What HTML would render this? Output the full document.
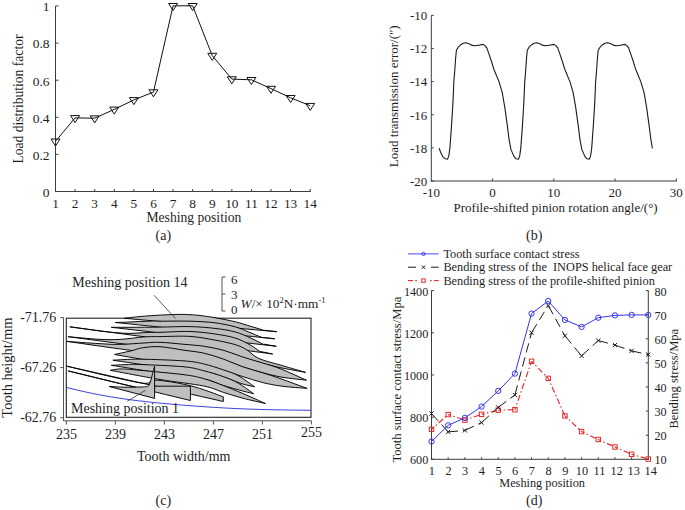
<!DOCTYPE html>
<html><head><meta charset="utf-8"><style>
html,body{margin:0;padding:0;background:#fff;overflow:hidden;}
svg{display:block;font-family:"Liberation Serif", serif;}
</style></head><body>
<svg width="685" height="510" viewBox="0 0 685 510">
<rect width="685" height="510" fill="#fff"/>
<line x1="55.5" y1="6" x2="55.5" y2="192.0" stroke="#3c3c3c" stroke-width="1"/>
<line x1="55.0" y1="191.5" x2="310.7" y2="191.5" stroke="#3c3c3c" stroke-width="1"/>
<line x1="55.5" y1="191.5" x2="58.5" y2="191.5" stroke="#3c3c3c" stroke-width="1"/>
<text x="49.5" y="196.8" font-size="13.5" text-anchor="end" fill="#1e1e1e">0</text>
<line x1="55.5" y1="154.4" x2="58.5" y2="154.4" stroke="#3c3c3c" stroke-width="1"/>
<text x="49.5" y="159.70000000000002" font-size="13.5" text-anchor="end" fill="#1e1e1e">0.2</text>
<line x1="55.5" y1="117.3" x2="58.5" y2="117.3" stroke="#3c3c3c" stroke-width="1"/>
<text x="49.5" y="122.6" font-size="13.5" text-anchor="end" fill="#1e1e1e">0.4</text>
<line x1="55.5" y1="80.19999999999999" x2="58.5" y2="80.19999999999999" stroke="#3c3c3c" stroke-width="1"/>
<text x="49.5" y="85.49999999999999" font-size="13.5" text-anchor="end" fill="#1e1e1e">0.6</text>
<line x1="55.5" y1="43.099999999999994" x2="58.5" y2="43.099999999999994" stroke="#3c3c3c" stroke-width="1"/>
<text x="49.5" y="48.39999999999999" font-size="13.5" text-anchor="end" fill="#1e1e1e">0.8</text>
<line x1="55.5" y1="6.0" x2="58.5" y2="6.0" stroke="#3c3c3c" stroke-width="1"/>
<text x="49.5" y="11.3" font-size="13.5" text-anchor="end" fill="#1e1e1e">1</text>
<text x="55.5" y="208.0" font-size="13.3" text-anchor="middle" fill="#1e1e1e">1</text>
<line x1="75.09230769230768" y1="191.5" x2="75.09230769230768" y2="189.0" stroke="#3c3c3c" stroke-width="1"/>
<text x="75.09230769230768" y="208.0" font-size="13.3" text-anchor="middle" fill="#1e1e1e">2</text>
<line x1="94.68461538461538" y1="191.5" x2="94.68461538461538" y2="189.0" stroke="#3c3c3c" stroke-width="1"/>
<text x="94.68461538461538" y="208.0" font-size="13.3" text-anchor="middle" fill="#1e1e1e">3</text>
<line x1="114.27692307692308" y1="191.5" x2="114.27692307692308" y2="189.0" stroke="#3c3c3c" stroke-width="1"/>
<text x="114.27692307692308" y="208.0" font-size="13.3" text-anchor="middle" fill="#1e1e1e">4</text>
<line x1="133.86923076923077" y1="191.5" x2="133.86923076923077" y2="189.0" stroke="#3c3c3c" stroke-width="1"/>
<text x="133.86923076923077" y="208.0" font-size="13.3" text-anchor="middle" fill="#1e1e1e">5</text>
<line x1="153.46153846153845" y1="191.5" x2="153.46153846153845" y2="189.0" stroke="#3c3c3c" stroke-width="1"/>
<text x="153.46153846153845" y="208.0" font-size="13.3" text-anchor="middle" fill="#1e1e1e">6</text>
<line x1="173.05384615384617" y1="191.5" x2="173.05384615384617" y2="189.0" stroke="#3c3c3c" stroke-width="1"/>
<text x="173.05384615384617" y="208.0" font-size="13.3" text-anchor="middle" fill="#1e1e1e">7</text>
<line x1="192.64615384615385" y1="191.5" x2="192.64615384615385" y2="189.0" stroke="#3c3c3c" stroke-width="1"/>
<text x="192.64615384615385" y="208.0" font-size="13.3" text-anchor="middle" fill="#1e1e1e">8</text>
<line x1="212.23846153846154" y1="191.5" x2="212.23846153846154" y2="189.0" stroke="#3c3c3c" stroke-width="1"/>
<text x="212.23846153846154" y="208.0" font-size="13.3" text-anchor="middle" fill="#1e1e1e">9</text>
<line x1="231.83076923076922" y1="191.5" x2="231.83076923076922" y2="189.0" stroke="#3c3c3c" stroke-width="1"/>
<text x="231.83076923076922" y="208.0" font-size="13.3" text-anchor="middle" fill="#1e1e1e">10</text>
<line x1="251.4230769230769" y1="191.5" x2="251.4230769230769" y2="189.0" stroke="#3c3c3c" stroke-width="1"/>
<text x="251.4230769230769" y="208.0" font-size="13.3" text-anchor="middle" fill="#1e1e1e">11</text>
<line x1="271.0153846153846" y1="191.5" x2="271.0153846153846" y2="189.0" stroke="#3c3c3c" stroke-width="1"/>
<text x="271.0153846153846" y="208.0" font-size="13.3" text-anchor="middle" fill="#1e1e1e">12</text>
<line x1="290.60769230769233" y1="191.5" x2="290.60769230769233" y2="189.0" stroke="#3c3c3c" stroke-width="1"/>
<text x="290.60769230769233" y="208.0" font-size="13.3" text-anchor="middle" fill="#1e1e1e">13</text>
<line x1="310.2" y1="191.5" x2="310.2" y2="189.0" stroke="#3c3c3c" stroke-width="1"/>
<text x="310.2" y="208.0" font-size="13.3" text-anchor="middle" fill="#1e1e1e">14</text>
<text x="193.9" y="221.6" font-size="13.6" text-anchor="middle" fill="#1e1e1e">Meshing position</text>
<text x="23.3" y="99.05" font-size="13.6" text-anchor="middle" fill="#1e1e1e" transform="rotate(-90 23.3 99.05)">Load distribution factor</text>
<text x="163.3" y="239.5" font-size="14" text-anchor="middle" fill="#1e1e1e">(a)</text>
<polyline points="55.50,141.30 75.09,117.90 94.68,118.20 114.28,109.40 133.87,99.90 153.46,92.10 173.05,5.80 192.65,5.80 212.24,55.60 231.83,79.10 251.42,79.80 271.02,88.60 290.61,97.80 310.20,105.70" fill="none" stroke="#111" stroke-width="1"/>
<polygon points="51.00,139.00 60.00,139.00 55.50,146.00" fill="none" stroke="#111" stroke-width="1"/>
<polygon points="70.59,115.60 79.59,115.60 75.09,122.60" fill="none" stroke="#111" stroke-width="1"/>
<polygon points="90.18,115.90 99.18,115.90 94.68,122.90" fill="none" stroke="#111" stroke-width="1"/>
<polygon points="109.78,107.10 118.78,107.10 114.28,114.10" fill="none" stroke="#111" stroke-width="1"/>
<polygon points="129.37,97.60 138.37,97.60 133.87,104.60" fill="none" stroke="#111" stroke-width="1"/>
<polygon points="148.96,89.80 157.96,89.80 153.46,96.80" fill="none" stroke="#111" stroke-width="1"/>
<polygon points="168.55,3.50 177.55,3.50 173.05,10.50" fill="none" stroke="#111" stroke-width="1"/>
<polygon points="188.15,3.50 197.15,3.50 192.65,10.50" fill="none" stroke="#111" stroke-width="1"/>
<polygon points="207.74,53.30 216.74,53.30 212.24,60.30" fill="none" stroke="#111" stroke-width="1"/>
<polygon points="227.33,76.80 236.33,76.80 231.83,83.80" fill="none" stroke="#111" stroke-width="1"/>
<polygon points="246.92,77.50 255.92,77.50 251.42,84.50" fill="none" stroke="#111" stroke-width="1"/>
<polygon points="266.52,86.30 275.52,86.30 271.02,93.30" fill="none" stroke="#111" stroke-width="1"/>
<polygon points="286.11,95.50 295.11,95.50 290.61,102.50" fill="none" stroke="#111" stroke-width="1"/>
<polygon points="305.70,103.40 314.70,103.40 310.20,110.40" fill="none" stroke="#111" stroke-width="1"/>
<line x1="431.3" y1="15.3" x2="431.3" y2="181.5" stroke="#3c3c3c" stroke-width="1"/>
<line x1="430.8" y1="181.0" x2="676.8" y2="181.0" stroke="#3c3c3c" stroke-width="1"/>
<line x1="431.3" y1="181.0" x2="433.8" y2="181.0" stroke="#3c3c3c" stroke-width="1"/>
<text x="427.3" y="185.9" font-size="13" text-anchor="end" fill="#1e1e1e">-20</text>
<line x1="431.3" y1="147.86" x2="433.8" y2="147.86" stroke="#3c3c3c" stroke-width="1"/>
<text x="427.3" y="152.76000000000002" font-size="13" text-anchor="end" fill="#1e1e1e">-18</text>
<line x1="431.3" y1="114.72" x2="433.8" y2="114.72" stroke="#3c3c3c" stroke-width="1"/>
<text x="427.3" y="119.62" font-size="13" text-anchor="end" fill="#1e1e1e">-16</text>
<line x1="431.3" y1="81.58" x2="433.8" y2="81.58" stroke="#3c3c3c" stroke-width="1"/>
<text x="427.3" y="86.48" font-size="13" text-anchor="end" fill="#1e1e1e">-14</text>
<line x1="431.3" y1="48.44" x2="433.8" y2="48.44" stroke="#3c3c3c" stroke-width="1"/>
<text x="427.3" y="53.339999999999996" font-size="13" text-anchor="end" fill="#1e1e1e">-12</text>
<line x1="431.3" y1="15.300000000000011" x2="433.8" y2="15.300000000000011" stroke="#3c3c3c" stroke-width="1"/>
<text x="427.3" y="20.20000000000001" font-size="13" text-anchor="end" fill="#1e1e1e">-10</text>
<text x="431.3" y="197.3" font-size="13" text-anchor="middle" fill="#1e1e1e">-10</text>
<line x1="492.55" y1="181.0" x2="492.55" y2="178.5" stroke="#3c3c3c" stroke-width="1"/>
<text x="492.55" y="197.3" font-size="13" text-anchor="middle" fill="#1e1e1e">0</text>
<line x1="553.8" y1="181.0" x2="553.8" y2="178.5" stroke="#3c3c3c" stroke-width="1"/>
<text x="553.8" y="197.3" font-size="13" text-anchor="middle" fill="#1e1e1e">10</text>
<line x1="615.05" y1="181.0" x2="615.05" y2="178.5" stroke="#3c3c3c" stroke-width="1"/>
<text x="615.05" y="197.3" font-size="13" text-anchor="middle" fill="#1e1e1e">20</text>
<line x1="676.3" y1="181.0" x2="676.3" y2="178.5" stroke="#3c3c3c" stroke-width="1"/>
<text x="676.3" y="197.3" font-size="13" text-anchor="middle" fill="#1e1e1e">30</text>
<text x="555.6" y="212.2" font-size="13" text-anchor="middle" fill="#1e1e1e">Profile-shifted pinion rotation angle/(°)</text>
<text x="397.6" y="96.25" font-size="13" text-anchor="middle" fill="#1e1e1e" transform="rotate(-90 397.6 96.25)">Load transmission error/(")</text>
<text x="534.2" y="239.6" font-size="14" text-anchor="middle" fill="#1e1e1e">(b)</text>
<polyline points="439.20,148.10 440.50,152.00 442.80,156.70 445.20,158.80 447.60,159.10 448.80,155.90 449.90,148.10 450.70,137.10 451.50,126.10 452.30,113.50 453.10,99.40 453.80,82.10 454.80,70.30 455.60,58.50 456.40,50.30 457.90,47.70 460.30,45.00 463.20,43.20 465.80,42.80 469.10,43.80 472.10,45.40 475.00,45.80 478.50,45.20 483.20,44.40 485.00,45.60 486.80,47.90 489.10,54.40 491.50,61.50 493.80,69.10 495.00,72.00 499.00,81.60 502.20,92.30 504.80,107.40 507.20,124.70 509.10,139.70 510.90,149.40 514.10,156.60 516.10,158.80 518.50,159.10 519.70,155.90 520.80,148.10 521.60,137.10 522.40,126.10 523.20,113.50 524.00,99.40 524.70,82.10 525.70,70.30 526.50,58.50 527.30,50.30 528.80,47.70 531.20,45.00 534.10,43.20 536.70,42.80 540.00,43.80 543.00,45.40 545.90,45.80 549.40,45.20 554.10,44.40 555.90,45.60 557.70,47.90 560.00,54.40 562.40,61.50 564.70,69.10 565.90,72.00 569.90,81.60 573.10,92.30 575.70,107.40 578.10,124.70 580.00,139.70 581.80,149.40 585.00,156.60 587.00,158.80 589.40,159.10 590.60,155.90 591.70,148.10 592.50,137.10 593.30,126.10 594.10,113.50 594.90,99.40 595.60,82.10 596.60,70.30 597.40,58.50 598.20,50.30 599.70,47.70 602.10,45.00 605.00,43.20 607.60,42.80 610.90,43.80 613.90,45.40 616.80,45.80 620.30,45.20 625.00,44.40 626.80,45.60 628.60,47.90 630.90,54.40 633.30,61.50 635.60,69.10 636.80,72.00 640.80,81.60 644.00,92.30 646.60,107.40 649.00,124.70 650.90,139.70 652.40,148.50" fill="none" stroke="#1a1a1a" stroke-width="1.1" stroke-linejoin="round"/>
<line x1="431.5" y1="290.4" x2="431.5" y2="459.8" stroke="#3c3c3c" stroke-width="1"/>
<line x1="648.3" y1="290.4" x2="648.3" y2="459.8" stroke="#3c3c3c" stroke-width="1"/>
<line x1="431.0" y1="459.3" x2="648.8" y2="459.3" stroke="#3c3c3c" stroke-width="1"/>
<line x1="431.5" y1="459.3" x2="434.0" y2="459.3" stroke="#3c3c3c" stroke-width="1"/>
<text x="428.3" y="464.40000000000003" font-size="12.2" text-anchor="end" fill="#1e1e1e">600</text>
<line x1="431.5" y1="417.125" x2="434.0" y2="417.125" stroke="#3c3c3c" stroke-width="1"/>
<text x="428.3" y="422.225" font-size="12.2" text-anchor="end" fill="#1e1e1e">800</text>
<line x1="431.5" y1="374.95000000000005" x2="434.0" y2="374.95000000000005" stroke="#3c3c3c" stroke-width="1"/>
<text x="428.3" y="380.05000000000007" font-size="12.2" text-anchor="end" fill="#1e1e1e">1000</text>
<line x1="431.5" y1="332.77500000000003" x2="434.0" y2="332.77500000000003" stroke="#3c3c3c" stroke-width="1"/>
<text x="428.3" y="337.87500000000006" font-size="12.2" text-anchor="end" fill="#1e1e1e">1200</text>
<line x1="431.5" y1="290.6" x2="434.0" y2="290.6" stroke="#3c3c3c" stroke-width="1"/>
<text x="428.3" y="295.70000000000005" font-size="12.2" text-anchor="end" fill="#1e1e1e">1400</text>
<line x1="648.3" y1="459.3" x2="645.8" y2="459.3" stroke="#3c3c3c" stroke-width="1"/>
<text x="654.5" y="464.40000000000003" font-size="12.2" text-anchor="start" fill="#1e1e1e">10</text>
<line x1="648.3" y1="435.2" x2="645.8" y2="435.2" stroke="#3c3c3c" stroke-width="1"/>
<text x="654.5" y="440.3" font-size="12.2" text-anchor="start" fill="#1e1e1e">20</text>
<line x1="648.3" y1="411.1" x2="645.8" y2="411.1" stroke="#3c3c3c" stroke-width="1"/>
<text x="654.5" y="416.20000000000005" font-size="12.2" text-anchor="start" fill="#1e1e1e">30</text>
<line x1="648.3" y1="387.0" x2="645.8" y2="387.0" stroke="#3c3c3c" stroke-width="1"/>
<text x="654.5" y="392.1" font-size="12.2" text-anchor="start" fill="#1e1e1e">40</text>
<line x1="648.3" y1="362.90000000000003" x2="645.8" y2="362.90000000000003" stroke="#3c3c3c" stroke-width="1"/>
<text x="654.5" y="368.00000000000006" font-size="12.2" text-anchor="start" fill="#1e1e1e">50</text>
<line x1="648.3" y1="338.8" x2="645.8" y2="338.8" stroke="#3c3c3c" stroke-width="1"/>
<text x="654.5" y="343.90000000000003" font-size="12.2" text-anchor="start" fill="#1e1e1e">60</text>
<line x1="648.3" y1="314.70000000000005" x2="645.8" y2="314.70000000000005" stroke="#3c3c3c" stroke-width="1"/>
<text x="654.5" y="319.80000000000007" font-size="12.2" text-anchor="start" fill="#1e1e1e">70</text>
<line x1="648.3" y1="290.6" x2="645.8" y2="290.6" stroke="#3c3c3c" stroke-width="1"/>
<text x="654.5" y="295.70000000000005" font-size="12.2" text-anchor="start" fill="#1e1e1e">80</text>
<text x="431.8" y="474.7" font-size="12.3" text-anchor="middle" fill="#1e1e1e">1</text>
<line x1="448.17692307692306" y1="459.3" x2="448.17692307692306" y2="457.3" stroke="#3c3c3c" stroke-width="1"/>
<text x="448.4769230769231" y="474.7" font-size="12.3" text-anchor="middle" fill="#1e1e1e">2</text>
<line x1="464.8538461538461" y1="459.3" x2="464.8538461538461" y2="457.3" stroke="#3c3c3c" stroke-width="1"/>
<text x="465.15384615384613" y="474.7" font-size="12.3" text-anchor="middle" fill="#1e1e1e">3</text>
<line x1="481.53076923076924" y1="459.3" x2="481.53076923076924" y2="457.3" stroke="#3c3c3c" stroke-width="1"/>
<text x="481.83076923076925" y="474.7" font-size="12.3" text-anchor="middle" fill="#1e1e1e">4</text>
<line x1="498.2076923076923" y1="459.3" x2="498.2076923076923" y2="457.3" stroke="#3c3c3c" stroke-width="1"/>
<text x="498.5076923076923" y="474.7" font-size="12.3" text-anchor="middle" fill="#1e1e1e">5</text>
<line x1="514.8846153846154" y1="459.3" x2="514.8846153846154" y2="457.3" stroke="#3c3c3c" stroke-width="1"/>
<text x="515.1846153846153" y="474.7" font-size="12.3" text-anchor="middle" fill="#1e1e1e">6</text>
<line x1="531.5615384615385" y1="459.3" x2="531.5615384615385" y2="457.3" stroke="#3c3c3c" stroke-width="1"/>
<text x="531.8615384615384" y="474.7" font-size="12.3" text-anchor="middle" fill="#1e1e1e">7</text>
<line x1="548.2384615384615" y1="459.3" x2="548.2384615384615" y2="457.3" stroke="#3c3c3c" stroke-width="1"/>
<text x="548.5384615384614" y="474.7" font-size="12.3" text-anchor="middle" fill="#1e1e1e">8</text>
<line x1="564.9153846153846" y1="459.3" x2="564.9153846153846" y2="457.3" stroke="#3c3c3c" stroke-width="1"/>
<text x="565.2153846153846" y="474.7" font-size="12.3" text-anchor="middle" fill="#1e1e1e">9</text>
<line x1="581.5923076923077" y1="459.3" x2="581.5923076923077" y2="457.3" stroke="#3c3c3c" stroke-width="1"/>
<text x="581.8923076923077" y="474.7" font-size="12.3" text-anchor="middle" fill="#1e1e1e">10</text>
<line x1="598.2692307692307" y1="459.3" x2="598.2692307692307" y2="457.3" stroke="#3c3c3c" stroke-width="1"/>
<text x="599.4692307692308" y="474.7" font-size="12.3" text-anchor="middle" fill="#1e1e1e">11</text>
<line x1="614.9461538461538" y1="459.3" x2="614.9461538461538" y2="457.3" stroke="#3c3c3c" stroke-width="1"/>
<text x="616.7461538461538" y="474.7" font-size="12.3" text-anchor="middle" fill="#1e1e1e">12</text>
<line x1="631.623076923077" y1="459.3" x2="631.623076923077" y2="457.3" stroke="#3c3c3c" stroke-width="1"/>
<text x="633.723076923077" y="474.7" font-size="12.3" text-anchor="middle" fill="#1e1e1e">13</text>
<text x="650.6999999999999" y="474.7" font-size="12.3" text-anchor="middle" fill="#1e1e1e">14</text>
<text x="542.1" y="487.3" font-size="12.3" text-anchor="middle" fill="#1e1e1e">Meshing position</text>
<text x="401.3" y="379.65" font-size="12.6" text-anchor="middle" fill="#1e1e1e" transform="rotate(-90 401.3 379.65)">Tooth surface contact stress/Mpa</text>
<text x="678.2" y="378.7" font-size="12.5" text-anchor="middle" fill="#1e1e1e" transform="rotate(-90 678.2 378.7)">Bending stress/Mpa</text>
<text x="534.2" y="505.0" font-size="14" text-anchor="middle" fill="#1e1e1e">(d)</text>
<line x1="431.50" y1="429.30" x2="448.18" y2="414.60" stroke="#e42a2a" stroke-width="1.15" stroke-dasharray="6,2.5,1.5,2.5" stroke-dashoffset="3"/>
<line x1="448.18" y1="414.60" x2="464.85" y2="420.10" stroke="#e42a2a" stroke-width="1.15" stroke-dasharray="6,2.5,1.5,2.5" stroke-dashoffset="3"/>
<line x1="464.85" y1="420.10" x2="481.53" y2="414.30" stroke="#e42a2a" stroke-width="1.15" stroke-dasharray="6,2.5,1.5,2.5" stroke-dashoffset="3"/>
<line x1="481.53" y1="414.30" x2="498.21" y2="410.20" stroke="#e42a2a" stroke-width="1.15" stroke-dasharray="6,2.5,1.5,2.5" stroke-dashoffset="3"/>
<line x1="498.21" y1="410.20" x2="514.88" y2="409.70" stroke="#e42a2a" stroke-width="1.15" stroke-dasharray="6,2.5,1.5,2.5" stroke-dashoffset="3"/>
<line x1="514.88" y1="409.70" x2="531.56" y2="361.30" stroke="#e42a2a" stroke-width="1.15" stroke-dasharray="6,2.5,1.5,2.5" stroke-dashoffset="3"/>
<line x1="531.56" y1="361.30" x2="548.24" y2="378.40" stroke="#e42a2a" stroke-width="1.15" stroke-dasharray="6,2.5,1.5,2.5" stroke-dashoffset="3"/>
<line x1="548.24" y1="378.40" x2="564.92" y2="415.90" stroke="#e42a2a" stroke-width="1.15" stroke-dasharray="6,2.5,1.5,2.5" stroke-dashoffset="3"/>
<line x1="564.92" y1="415.90" x2="581.59" y2="431.60" stroke="#e42a2a" stroke-width="1.15" stroke-dasharray="6,2.5,1.5,2.5" stroke-dashoffset="3"/>
<line x1="581.59" y1="431.60" x2="598.27" y2="439.50" stroke="#e42a2a" stroke-width="1.15" stroke-dasharray="6,2.5,1.5,2.5" stroke-dashoffset="3"/>
<line x1="598.27" y1="439.50" x2="614.95" y2="447.00" stroke="#e42a2a" stroke-width="1.15" stroke-dasharray="6,2.5,1.5,2.5" stroke-dashoffset="3"/>
<line x1="614.95" y1="447.00" x2="631.62" y2="454.30" stroke="#e42a2a" stroke-width="1.15" stroke-dasharray="6,2.5,1.5,2.5" stroke-dashoffset="3"/>
<line x1="631.62" y1="454.30" x2="648.30" y2="459.10" stroke="#e42a2a" stroke-width="1.15" stroke-dasharray="6,2.5,1.5,2.5" stroke-dashoffset="3"/>
<line x1="431.50" y1="413.50" x2="448.18" y2="431.90" stroke="#1a1a1a" stroke-width="1" stroke-dasharray="9.5,5" stroke-dashoffset="14"/>
<line x1="448.18" y1="431.90" x2="464.85" y2="430.40" stroke="#1a1a1a" stroke-width="1" stroke-dasharray="9.5,5" stroke-dashoffset="14"/>
<line x1="464.85" y1="430.40" x2="481.53" y2="422.60" stroke="#1a1a1a" stroke-width="1" stroke-dasharray="9.5,5" stroke-dashoffset="14"/>
<line x1="481.53" y1="422.60" x2="498.21" y2="407.40" stroke="#1a1a1a" stroke-width="1" stroke-dasharray="9.5,5" stroke-dashoffset="14"/>
<line x1="498.21" y1="407.40" x2="514.88" y2="395.00" stroke="#1a1a1a" stroke-width="1" stroke-dasharray="9.5,5" stroke-dashoffset="14"/>
<line x1="514.88" y1="395.00" x2="531.56" y2="332.70" stroke="#1a1a1a" stroke-width="1" stroke-dasharray="9.5,5" stroke-dashoffset="14"/>
<line x1="531.56" y1="332.70" x2="548.24" y2="305.50" stroke="#1a1a1a" stroke-width="1" stroke-dasharray="9.5,5" stroke-dashoffset="14"/>
<line x1="548.24" y1="305.50" x2="564.92" y2="335.80" stroke="#1a1a1a" stroke-width="1" stroke-dasharray="9.5,5" stroke-dashoffset="14"/>
<line x1="564.92" y1="335.80" x2="581.59" y2="355.90" stroke="#1a1a1a" stroke-width="1" stroke-dasharray="9.5,5" stroke-dashoffset="14"/>
<line x1="581.59" y1="355.90" x2="598.27" y2="340.50" stroke="#1a1a1a" stroke-width="1" stroke-dasharray="9.5,5" stroke-dashoffset="14"/>
<line x1="598.27" y1="340.50" x2="614.95" y2="345.10" stroke="#1a1a1a" stroke-width="1" stroke-dasharray="9.5,5" stroke-dashoffset="14"/>
<line x1="614.95" y1="345.10" x2="631.62" y2="350.90" stroke="#1a1a1a" stroke-width="1" stroke-dasharray="9.5,5" stroke-dashoffset="14"/>
<line x1="631.62" y1="350.90" x2="648.30" y2="354.60" stroke="#1a1a1a" stroke-width="1" stroke-dasharray="9.5,5" stroke-dashoffset="14"/>
<polyline points="431.50,441.50 448.18,425.30 464.85,417.90 481.53,406.60 498.21,390.90 514.88,373.60 531.56,313.60 548.24,301.00 564.92,319.90 581.59,326.90 598.27,317.70 614.95,315.40 631.62,314.90 648.30,314.90" fill="none" stroke="#3535ec" stroke-width="1.0"/>
<rect x="429.30" y="427.10" width="4.4" height="4.4" fill="none" stroke="#e42a2a" stroke-width="1"/>
<rect x="445.98" y="412.40" width="4.4" height="4.4" fill="none" stroke="#e42a2a" stroke-width="1"/>
<rect x="462.65" y="417.90" width="4.4" height="4.4" fill="none" stroke="#e42a2a" stroke-width="1"/>
<rect x="479.33" y="412.10" width="4.4" height="4.4" fill="none" stroke="#e42a2a" stroke-width="1"/>
<rect x="496.01" y="408.00" width="4.4" height="4.4" fill="none" stroke="#e42a2a" stroke-width="1"/>
<rect x="512.68" y="407.50" width="4.4" height="4.4" fill="none" stroke="#e42a2a" stroke-width="1"/>
<rect x="529.36" y="359.10" width="4.4" height="4.4" fill="none" stroke="#e42a2a" stroke-width="1"/>
<rect x="546.04" y="376.20" width="4.4" height="4.4" fill="none" stroke="#e42a2a" stroke-width="1"/>
<rect x="562.72" y="413.70" width="4.4" height="4.4" fill="none" stroke="#e42a2a" stroke-width="1"/>
<rect x="579.39" y="429.40" width="4.4" height="4.4" fill="none" stroke="#e42a2a" stroke-width="1"/>
<rect x="596.07" y="437.30" width="4.4" height="4.4" fill="none" stroke="#e42a2a" stroke-width="1"/>
<rect x="612.75" y="444.80" width="4.4" height="4.4" fill="none" stroke="#e42a2a" stroke-width="1"/>
<rect x="629.42" y="452.10" width="4.4" height="4.4" fill="none" stroke="#e42a2a" stroke-width="1"/>
<rect x="646.10" y="456.90" width="4.4" height="4.4" fill="none" stroke="#e42a2a" stroke-width="1"/>
<path d="M429.40,411.40L433.60,415.60M429.40,415.60L433.60,411.40" stroke="#1a1a1a" stroke-width="1"/>
<path d="M446.08,429.80L450.28,434.00M446.08,434.00L450.28,429.80" stroke="#1a1a1a" stroke-width="1"/>
<path d="M462.75,428.30L466.95,432.50M462.75,432.50L466.95,428.30" stroke="#1a1a1a" stroke-width="1"/>
<path d="M479.43,420.50L483.63,424.70M479.43,424.70L483.63,420.50" stroke="#1a1a1a" stroke-width="1"/>
<path d="M496.11,405.30L500.31,409.50M496.11,409.50L500.31,405.30" stroke="#1a1a1a" stroke-width="1"/>
<path d="M512.78,392.90L516.98,397.10M512.78,397.10L516.98,392.90" stroke="#1a1a1a" stroke-width="1"/>
<path d="M529.46,330.60L533.66,334.80M529.46,334.80L533.66,330.60" stroke="#1a1a1a" stroke-width="1"/>
<path d="M546.14,303.40L550.34,307.60M546.14,307.60L550.34,303.40" stroke="#1a1a1a" stroke-width="1"/>
<path d="M562.82,333.70L567.02,337.90M562.82,337.90L567.02,333.70" stroke="#1a1a1a" stroke-width="1"/>
<path d="M579.49,353.80L583.69,358.00M579.49,358.00L583.69,353.80" stroke="#1a1a1a" stroke-width="1"/>
<path d="M596.17,338.40L600.37,342.60M596.17,342.60L600.37,338.40" stroke="#1a1a1a" stroke-width="1"/>
<path d="M612.85,343.00L617.05,347.20M612.85,347.20L617.05,343.00" stroke="#1a1a1a" stroke-width="1"/>
<path d="M629.52,348.80L633.72,353.00M629.52,353.00L633.72,348.80" stroke="#1a1a1a" stroke-width="1"/>
<path d="M646.20,352.50L650.40,356.70M646.20,356.70L650.40,352.50" stroke="#1a1a1a" stroke-width="1"/>
<circle cx="431.50" cy="441.50" r="2.65" fill="none" stroke="#3535ec" stroke-width="1"/>
<circle cx="448.18" cy="425.30" r="2.65" fill="none" stroke="#3535ec" stroke-width="1"/>
<circle cx="464.85" cy="417.90" r="2.65" fill="none" stroke="#3535ec" stroke-width="1"/>
<circle cx="481.53" cy="406.60" r="2.65" fill="none" stroke="#3535ec" stroke-width="1"/>
<circle cx="498.21" cy="390.90" r="2.65" fill="none" stroke="#3535ec" stroke-width="1"/>
<circle cx="514.88" cy="373.60" r="2.65" fill="none" stroke="#3535ec" stroke-width="1"/>
<circle cx="531.56" cy="313.60" r="2.65" fill="none" stroke="#3535ec" stroke-width="1"/>
<circle cx="548.24" cy="301.00" r="2.65" fill="none" stroke="#3535ec" stroke-width="1"/>
<circle cx="564.92" cy="319.90" r="2.65" fill="none" stroke="#3535ec" stroke-width="1"/>
<circle cx="581.59" cy="326.90" r="2.65" fill="none" stroke="#3535ec" stroke-width="1"/>
<circle cx="598.27" cy="317.70" r="2.65" fill="none" stroke="#3535ec" stroke-width="1"/>
<circle cx="614.95" cy="315.40" r="2.65" fill="none" stroke="#3535ec" stroke-width="1"/>
<circle cx="631.62" cy="314.90" r="2.65" fill="none" stroke="#3535ec" stroke-width="1"/>
<circle cx="648.30" cy="314.90" r="2.65" fill="none" stroke="#3535ec" stroke-width="1"/>
<line x1="408" y1="253.9" x2="438.7" y2="253.9" stroke="#3535ec" stroke-width="0.9"/>
<circle cx="423.5" cy="253.9" r="1.6" fill="none" stroke="#3535ec" stroke-width="1"/>
<line x1="408" y1="267.2" x2="416" y2="267.2" stroke="#1a1a1a" stroke-width="1"/>
<line x1="431" y1="267.2" x2="438.7" y2="267.2" stroke="#1a1a1a" stroke-width="1"/>
<path d="M421.8,265.5L425.2,268.9M421.8,268.9L425.2,265.5" stroke="#1a1a1a" stroke-width="1"/>
<line x1="408" y1="280.6" x2="413" y2="280.6" stroke="#e42a2a" stroke-width="1.1"/>
<line x1="415.3" y1="280.6" x2="416.8" y2="280.6" stroke="#e42a2a" stroke-width="1.1"/>
<line x1="430.2" y1="280.6" x2="431.7" y2="280.6" stroke="#e42a2a" stroke-width="1.1"/>
<line x1="434" y1="280.6" x2="438.7" y2="280.6" stroke="#e42a2a" stroke-width="1.1"/>
<rect x="421.8" y="278.90000000000003" width="3.4" height="3.4" fill="none" stroke="#e42a2a" stroke-width="1"/>
<text x="443.4" y="257.7" font-size="12.3" text-anchor="start" fill="#1e1e1e">Tooth surface contact stress</text>
<text x="443.4" y="271.2" font-size="12.3" text-anchor="start" fill="#1e1e1e">Bending stress of the&#160; INOPS helical face gear</text>
<text x="443.4" y="284.6" font-size="12.3" text-anchor="start" fill="#1e1e1e">Bending stress of the profile-shifted pinion</text>
<rect x="66.3" y="318.2" width="244.7" height="99.10000000000002" fill="none" stroke="#222" stroke-width="1.1"/>
<g stroke-linejoin="round">
<path d="M124.40,318.30 C126.58,318.05 132.40,317.28 137.50,316.80 C142.60,316.32 148.25,315.80 155.00,315.40 C161.75,315.00 172.17,314.52 178.00,314.40 C183.83,314.28 186.33,314.52 190.00,314.70 C193.67,314.88 195.83,315.00 200.00,315.50 C204.17,316.00 209.10,316.65 215.00,317.70 C220.90,318.75 229.43,320.35 235.40,321.80 C241.37,323.25 246.53,325.13 250.80,326.40 C255.07,327.67 258.97,328.77 261.00,329.40 C263.03,330.03 262.67,330.07 263.00,330.20 L276.80,331.70 C251.40,329.47 149.80,320.53 124.40,318.30 Z" fill="#bfbfbf" stroke="#000" stroke-width="0.95"/>
<path d="M115.30,322.50 C117.75,322.42 124.10,322.23 130.00,322.00 C135.90,321.77 145.70,321.23 150.70,321.10 C155.70,320.97 153.45,321.18 160.00,321.20 C166.55,321.22 180.83,320.93 190.00,321.20 C199.17,321.47 207.43,321.85 215.00,322.80 C222.57,323.75 229.78,325.37 235.40,326.90 C241.02,328.43 244.43,330.30 248.70,332.00 C252.97,333.70 258.62,336.18 261.00,337.10 C263.38,338.02 262.67,337.43 263.00,337.50 L274.80,338.80 C248.22,336.08 141.88,325.22 115.30,322.50 Z" fill="#bfbfbf" stroke="#000" stroke-width="0.95"/>
<path d="M111.30,327.30 C114.42,327.30 121.88,327.33 130.00,327.30 C138.12,327.27 150.00,327.22 160.00,327.10 C170.00,326.98 180.83,326.38 190.00,326.60 C199.17,326.82 207.43,327.50 215.00,328.40 C222.57,329.30 229.43,330.38 235.40,332.00 C241.37,333.62 246.37,336.15 250.80,338.10 C255.23,340.05 259.80,342.68 262.00,343.70 C264.20,344.72 263.67,344.12 264.00,344.20 L276.30,346.30 C248.80,343.13 138.80,330.47 111.30,327.30 Z" fill="#bfbfbf" stroke="#000" stroke-width="0.95"/>
<path d="M69.80,326.80 C74.83,327.50 92.47,330.03 100.00,331.00 C107.53,331.97 110.00,332.20 115.00,332.60 C120.00,333.00 125.00,333.40 130.00,333.40 C135.00,333.40 140.00,332.78 145.00,332.60 C150.00,332.42 152.50,332.48 160.00,332.30 C167.50,332.12 180.83,331.22 190.00,331.50 C199.17,331.78 207.43,332.90 215.00,334.00 C222.57,335.10 229.43,336.22 235.40,338.10 C241.37,339.98 246.87,343.17 250.80,345.30 C254.73,347.43 257.30,349.85 259.00,350.90 C260.70,351.95 260.67,351.48 261.00,351.60 L272.70,354.00 C238.88,349.47 103.62,331.33 69.80,326.80 Z" fill="#bfbfbf" stroke="#000" stroke-width="0.95"/>
<path d="M68.10,336.70 C73.25,337.13 90.35,338.85 99.00,339.30 C107.65,339.75 112.50,339.80 120.00,339.40 C127.50,339.00 137.33,337.37 144.00,336.90 C150.67,336.43 152.33,336.68 160.00,336.60 C167.67,336.52 180.83,335.82 190.00,336.40 C199.17,336.98 207.43,338.72 215.00,340.10 C222.57,341.48 230.07,343.05 235.40,344.70 C240.73,346.35 243.10,347.70 247.00,350.00 C250.90,352.30 252.97,355.92 258.80,358.50 C264.63,361.08 274.20,363.18 282.00,365.50 C289.80,367.82 301.67,371.25 305.60,372.40 C301.67,371.67 289.20,369.52 282.00,368.00 C274.80,366.48 268.93,364.88 262.40,363.30 C255.87,361.72 252.60,360.30 242.80,358.50 C233.00,356.70 220.07,354.50 203.60,352.50 C187.13,350.50 166.58,349.13 144.00,346.50 C121.42,343.87 80.75,338.33 68.10,336.70 Z" fill="#bfbfbf" stroke="#000" stroke-width="0.95"/>
<path d="M66.90,341.40 C72.25,341.77 90.15,343.10 99.00,343.60 C107.85,344.10 112.50,344.50 120.00,344.40 C127.50,344.30 137.33,343.35 144.00,343.00 C150.67,342.65 153.33,342.08 160.00,342.30 C166.67,342.52 176.73,343.65 184.00,344.30 C191.27,344.95 197.07,345.22 203.60,346.20 C210.13,347.18 216.67,348.40 223.20,350.20 C229.73,352.00 236.27,354.88 242.80,357.00 C249.33,359.12 256.20,360.97 262.40,362.90 C268.60,364.83 272.65,365.72 280.00,368.60 C287.35,371.48 302.08,378.27 306.50,380.20 C302.42,379.70 289.35,378.45 282.00,377.20 C274.65,375.95 268.93,374.40 262.40,372.70 C255.87,371.00 249.33,369.12 242.80,367.00 C236.27,364.88 229.73,361.67 223.20,360.00 C216.67,358.33 216.80,358.33 203.60,357.00 C190.40,355.67 166.78,354.60 144.00,352.00 C121.22,349.40 79.75,343.17 66.90,341.40 Z" fill="#bfbfbf" stroke="#000" stroke-width="0.95"/>
<path d="M114.60,354.50 C117.57,353.83 127.77,351.62 132.40,350.50 C137.03,349.38 137.80,348.43 142.40,347.80 C147.00,347.17 153.07,346.30 160.00,346.70 C166.93,347.10 176.73,349.13 184.00,350.20 C191.27,351.27 197.07,351.63 203.60,353.10 C210.13,354.57 216.67,356.72 223.20,359.00 C229.73,361.28 236.27,364.52 242.80,366.80 C249.33,369.08 256.20,370.75 262.40,372.70 C268.60,374.65 272.55,375.88 280.00,378.50 C287.45,381.12 302.58,386.75 307.10,388.40 C302.92,388.03 289.45,387.18 282.00,386.20 C274.55,385.22 268.93,384.10 262.40,382.50 C255.87,380.90 249.33,378.60 242.80,376.60 C236.27,374.60 229.73,372.27 223.20,370.50 C216.67,368.73 214.13,367.42 203.60,366.00 C193.07,364.58 174.83,363.92 160.00,362.00 C145.17,360.08 122.17,355.75 114.60,354.50 Z" fill="#bfbfbf" stroke="#000" stroke-width="0.95"/>
<path d="M112.90,360.20 C117.42,360.03 128.15,359.08 140.00,359.20 C151.85,359.32 173.40,360.12 184.00,360.90 C194.60,361.68 197.07,362.42 203.60,363.90 C210.13,365.38 217.47,367.87 223.20,369.80 C228.93,371.73 232.77,372.67 238.00,375.50 C243.23,378.33 251.83,384.92 254.60,386.80 C252.63,386.33 248.03,385.63 242.80,384.00 C237.57,382.37 229.73,379.08 223.20,377.00 C216.67,374.92 214.13,373.17 203.60,371.50 C193.07,369.83 175.12,368.88 160.00,367.00 C144.88,365.12 120.75,361.33 112.90,360.20 Z" fill="#bfbfbf" stroke="#000" stroke-width="0.95"/>
<path d="M111.30,365.30 C113.92,365.18 122.22,364.73 127.00,364.60 C131.78,364.47 130.50,364.13 140.00,364.50 C149.50,364.87 173.40,365.77 184.00,366.80 C194.60,367.83 197.07,369.07 203.60,370.70 C210.13,372.33 217.47,374.55 223.20,376.60 C228.93,378.65 232.93,380.15 238.00,383.00 C243.07,385.85 251.00,391.92 253.60,393.70 C251.80,393.25 247.87,392.37 242.80,391.00 C237.73,389.63 229.73,387.50 223.20,385.50 C216.67,383.50 214.13,381.08 203.60,379.00 C193.07,376.92 175.38,375.28 160.00,373.00 C144.62,370.72 119.42,366.58 111.30,365.30 Z" fill="#bfbfbf" stroke="#000" stroke-width="0.95"/>
<path d="M110.20,370.30 C112.10,370.07 116.63,368.90 121.60,368.90 C126.57,368.90 129.60,369.33 140.00,370.30 C150.40,371.27 173.40,373.32 184.00,374.70 C194.60,376.08 197.07,376.80 203.60,378.60 C210.13,380.40 216.67,383.02 223.20,385.50 C229.73,387.98 235.77,390.50 242.80,393.50 C249.83,396.50 261.63,401.83 265.40,403.50 C261.63,402.62 249.83,400.07 242.80,398.20 C235.77,396.33 229.73,394.33 223.20,392.30 C216.67,390.27 214.13,388.13 203.60,386.00 C193.07,383.87 175.57,382.12 160.00,379.50 C144.43,376.88 118.50,371.83 110.20,370.30 Z" fill="#bfbfbf" stroke="#000" stroke-width="0.95"/>
<path d="M66.80,366.20 C79.00,368.97 125.37,380.50 140.00,382.80 C154.63,385.10 146.20,379.52 154.60,380.00 C163.00,380.48 178.95,382.90 190.40,385.70 C201.85,388.50 217.82,394.95 223.30,396.80 L223.30,401.50 C197.22,395.62 92.88,372.08 66.80,366.20 Z" fill="#bfbfbf" stroke="#000" stroke-width="0.95"/>
<path d="M68.10,370.90 C80.08,373.77 126.35,385.50 140.00,388.10 C153.65,390.70 147.57,386.82 150.00,386.50 C152.43,386.18 147.87,386.25 154.60,386.20 C161.33,386.15 184.43,386.20 190.40,386.20 L190.40,400.50 C170.02,395.57 88.48,375.83 68.10,370.90 Z" fill="#bfbfbf" stroke="#000" stroke-width="0.95"/>
<path d="M109.20,386.50 C111.83,386.62 119.87,387.12 125.00,387.20 C130.13,387.28 136.60,387.08 140.00,387.00 C143.40,386.92 143.98,386.92 145.40,386.70 C146.82,386.48 147.65,386.55 148.50,385.70 C149.35,384.85 149.82,383.65 150.50,381.60 C151.18,379.55 151.92,375.97 152.60,373.40 C153.28,370.83 154.27,367.40 154.60,366.20 L154.6,398.4 Z" fill="#bfbfbf" stroke="#000" stroke-width="0.95"/>
</g>
<path d="M66.8,387.5 C100,396 130,400.8 180,404.9 S260,409.8 310.6,410.3" fill="none" stroke="#2a2ad8" stroke-width="0.9"/>
<line x1="63.5" y1="317.6" x2="63.5" y2="421" stroke="#555" stroke-width="1"/>
<line x1="63.5" y1="420.8" x2="311.5" y2="420.8" stroke="#555" stroke-width="1"/>
<line x1="60.2" y1="317.6" x2="63.5" y2="317.6" stroke="#555" stroke-width="1"/>
<text x="56.3" y="321.8" font-size="14" text-anchor="end" fill="#1e1e1e">-71.76</text>
<line x1="60.2" y1="367.6" x2="63.5" y2="367.6" stroke="#555" stroke-width="1"/>
<text x="56.3" y="371.8" font-size="14" text-anchor="end" fill="#1e1e1e">-67.26</text>
<line x1="60.2" y1="417.7" x2="63.5" y2="417.7" stroke="#555" stroke-width="1"/>
<text x="56.3" y="421.9" font-size="14" text-anchor="end" fill="#1e1e1e">-62.76</text>
<line x1="66.4" y1="420.8" x2="66.4" y2="424.5" stroke="#555" stroke-width="1"/>
<text x="66.60000000000001" y="438.9" font-size="14" text-anchor="middle" fill="#1e1e1e">235</text>
<line x1="115.4" y1="420.8" x2="115.4" y2="424.5" stroke="#555" stroke-width="1"/>
<text x="115.60000000000001" y="438.9" font-size="14" text-anchor="middle" fill="#1e1e1e">239</text>
<line x1="164.4" y1="420.8" x2="164.4" y2="424.5" stroke="#555" stroke-width="1"/>
<text x="164.6" y="438.9" font-size="14" text-anchor="middle" fill="#1e1e1e">243</text>
<line x1="213.4" y1="420.8" x2="213.4" y2="424.5" stroke="#555" stroke-width="1"/>
<text x="213.6" y="438.9" font-size="14" text-anchor="middle" fill="#1e1e1e">247</text>
<line x1="262.4" y1="420.8" x2="262.4" y2="424.5" stroke="#555" stroke-width="1"/>
<text x="262.59999999999997" y="438.9" font-size="14" text-anchor="middle" fill="#1e1e1e">251</text>
<line x1="311.4" y1="420.8" x2="311.4" y2="424.5" stroke="#555" stroke-width="1"/>
<text x="311.59999999999997" y="437.4" font-size="14" text-anchor="middle" fill="#1e1e1e">255</text>
<text x="183.7" y="461.4" font-size="14" text-anchor="middle" fill="#1e1e1e">Tooth width/mm</text>
<text x="12.0" y="367.6" font-size="14.5" text-anchor="middle" fill="#1e1e1e" transform="rotate(-90 12.0 367.6)">Tooth height/mm</text>
<text x="163.3" y="504.9" font-size="14" text-anchor="middle" fill="#1e1e1e">(c)</text>
<text x="72.3" y="287.0" font-size="14" text-anchor="start" fill="#1e1e1e">Meshing position 14</text>
<line x1="154" y1="295.2" x2="175.5" y2="318.5" stroke="#333" stroke-width="0.8"/>
<text x="71.0" y="412.6" font-size="14" text-anchor="start" fill="#1e1e1e">Meshing position 1</text>
<line x1="127.2" y1="401.3" x2="145.6" y2="390.3" stroke="#333" stroke-width="0.8"/>
<line x1="222" y1="277" x2="222" y2="311.2" stroke="#555" stroke-width="1"/>
<line x1="222" y1="277" x2="225.5" y2="277" stroke="#555" stroke-width="1"/>
<line x1="222" y1="294" x2="225.5" y2="294" stroke="#555" stroke-width="1"/>
<line x1="222" y1="311" x2="225.5" y2="311" stroke="#555" stroke-width="1"/>
<text x="231.0" y="284.0" font-size="13" text-anchor="start" fill="#1e1e1e">6</text>
<text x="231.0" y="298.8" font-size="13" text-anchor="start" fill="#1e1e1e">3</text>
<text x="231.0" y="313.7" font-size="13" text-anchor="start" fill="#1e1e1e">0</text>
<text x="240.6" y="308.3" font-size="13.3" fill="#1e1e1e"><tspan font-style="italic">W</tspan>/× 10<tspan font-size="8.5" dy="-5">2</tspan><tspan dy="5">N·mm</tspan><tspan font-size="8.5" dy="-5">-1</tspan></text>
</svg>
</body></html>
